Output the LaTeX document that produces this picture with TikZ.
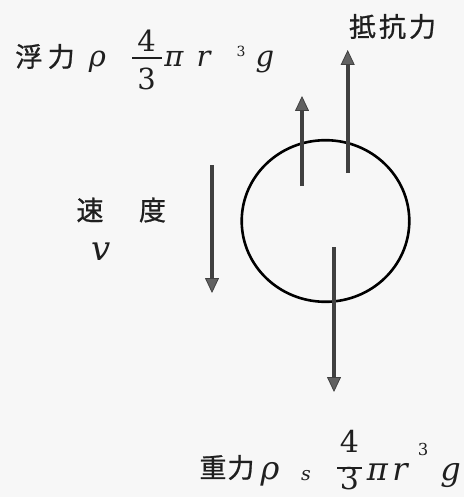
\documentclass[tikz,border=0pt]{standalone}
\usepackage{fontspec}
\newfontfamily\jp[FakeBold=0.8]{Noto Sans CJK JP}
\newfontfamily\tms{DejaVu Serif}
\usetikzlibrary{arrows.meta,shapes.geometric}
\begin{document}
\begin{tikzpicture}[x=1pt,y=-1pt,
  force/.style={draw=black!75, line width=3.8pt,
    -{Triangle[length=15pt,width=14pt,line width=0.8pt,fill=black!62]}},
  ball/.style={draw=black, line width=2.6pt},
  jlabel/.style={inner sep=0pt, anchor=center, font=\jp\fontsize{27}{27}\selectfont, text=black!88},
  mtop/.style={inner sep=0pt, anchor=base, font=\tms\itshape\fontsize{29}{29}\selectfont, text=black!88},
  dtop/.style={inner sep=0pt, anchor=base, font=\tms\fontsize{29}{29}\selectfont, text=black!88},
  stop/.style={inner sep=0pt, anchor=base, font=\tms\fontsize{14}{14}\selectfont, text=black!88},
  mbot/.style={inner sep=0pt, anchor=base, font=\tms\itshape\fontsize{32}{32}\selectfont, text=black!88},
  dbot/.style={inner sep=0pt, anchor=base, font=\tms\fontsize{30}{30}\selectfont, text=black!88},
  sbot/.style={inner sep=0pt, anchor=base, font=\tms\fontsize{16.5}{16.5}\selectfont, text=black!88},
  sbotit/.style={inner sep=0pt, anchor=base, font=\tms\itshape\fontsize{19}{19}\selectfont, text=black!88},
  fbar/.style={draw=black!88, line width=1.3pt}]
\useasboundingbox[fill=black!3] (0,0) rectangle (464,497);

% sphere
\node[ball, ellipse, minimum width=167.6pt, minimum height=161.6pt, inner sep=0pt] (sphere) at (325.5,221) {};

% arrows
\coordinate (b0) at (302,186); \coordinate (b1) at (302,96);
\coordinate (r0) at (347.7,173); \coordinate (r1) at (347.7,50);
\coordinate (v0) at (212,165); \coordinate (v1) at (212,293);
\coordinate (g0) at (334,247); \coordinate (g1) at (334,392);
\draw[force] (b0) -- (b1);
\draw[force] (r0) -- (r1);
\draw[force] (v0) -- (v1);
\draw[force] (g0) -- (g1);

% buoyancy label
\node[jlabel] (fu) at (45,56.5) {浮\hspace{5.5pt}力};
\node[mtop] (fuRho) at (97.5,67) {ρ};
\node[dtop] (fuNum) at (146.5,52) {4};
\coordinate (fuBarL) at (132,58); \coordinate (fuBarR) at (162,58);
\draw[fbar] (fuBarL) -- (fuBarR);
\node[dtop] (fuDen) at (146.5,90) {3};
\node[mtop] (fuPi) at (174,67) {π};
\node[mtop] (fuR) at (203.5,67) {r};
\node[stop] (fuExp) at (241,57) {3};
\node[mtop] (fuG) at (265,67) {g};

% resistance label
\node[jlabel] (teikou) at (392.5,26.5) {抵\hspace{3pt}抗\hspace{3pt}力};

% velocity label
\node[jlabel] (soku) at (90,210) {速};
\node[jlabel] (do) at (152.5,210) {度};
\node[inner sep=0pt, anchor=base, font=\tms\itshape\fontsize{34}{34}\selectfont, text=black!88] (vel) at (101.5,260) {v};

% gravity label
\node[jlabel] (ju) at (227,467.5) {重\hspace{1pt}力};
\node[mbot] (juRho) at (270,479) {ρ};
\node[sbotit] (juS) at (306,480) {s};
\node[dbot] (juNum) at (349.5,452) {4};
\coordinate (juBarL) at (337,468); \coordinate (juBarR) at (362,468);
\draw[fbar] (juBarL) -- (juBarR);
\node[dbot] (juDen) at (349.5,489) {3};
\node[mbot] (juPi) at (377.5,480) {π};
\node[mbot] (juR) at (400,480) {r};
\node[sbot] (juExp) at (423,455) {3};
\node[mbot] (juG) at (450.5,480) {g};
\end{tikzpicture}
\end{document}
